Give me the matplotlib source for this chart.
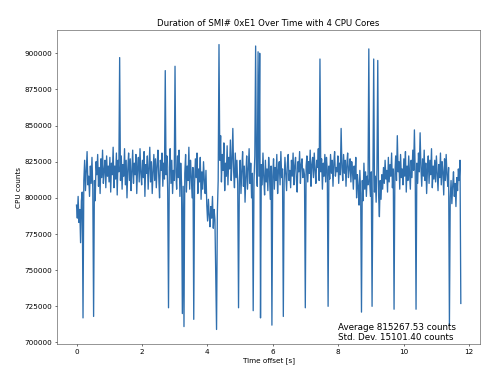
import numpy as np
import matplotlib
matplotlib.use("Agg")
import matplotlib.pyplot as plt

# Sampling period of the SMI duration measurements (seconds)
SAMPLE_PERIOD = 0.0249

# Duration of each SMI, in thousands of CPU counts
smi_kcounts = [
    # t = 0.0 .. ~1.0
    795, 786, 801, 783, 792, 769, 798, 804, 717, 812, 826, 805, 818, 832, 809, 815,
    801, 822, 810, 828, 806, 718, 812, 798, 825, 816, 830, 808, 821, 803, 827, 814,
    833, 810, 819, 826, 807, 829, 815, 822,
    # t = 1.0 .. 2.0
    811, 828, 804, 824, 816, 835, 807, 822, 813, 831, 802, 826, 818, 897, 812, 829,
    806, 823, 815, 834, 809, 826, 800, 820, 831, 812, 827, 805, 818, 833, 810, 824,
    816, 830, 803, 821, 828, 811, 834, 817,
    # t = 2.0 .. 3.0
    809, 826, 814, 832, 801, 823, 817, 829, 806, 820, 835, 811, 825, 803, 818, 830,
    812, 827, 807, 822, 833, 815, 800, 826, 819, 831, 808, 824, 813, 888, 816, 829,
    805, 724, 821, 834, 810, 826, 803, 819,
    # t = 3.0 .. 4.0
    812, 891, 818, 806, 829, 814, 833, 801, 824, 810, 720, 808, 711, 817, 830, 804,
    822, 812, 835, 806, 826, 815, 800, 821, 716, 809, 827, 814, 831, 803, 820, 811,
    828, 799, 818, 806, 825, 812, 803, 819,
    # t = 4.0 .. 5.0
    795, 784, 799, 788, 780, 794, 786, 801, 779, 792, 785, 745, 709, 790, 812, 906,
    826, 843, 811, 830, 819, 838, 805, 824, 815, 836, 809, 828, 820, 840, 812, 826,
    848, 818, 807, 831, 814, 826, 809, 724,
    # t = 5.0 .. 6.0
    812, 826, 803, 819, 832, 808, 822, 797, 815, 829, 806, 821, 834, 810, 824, 800,
    817, 722, 812, 829, 905, 818, 808, 901, 815, 900, 717, 823, 809, 831, 814, 802,
    826, 811, 820, 805, 828, 816, 799, 822,
    # t = 6.0 .. 7.0
    712, 815, 827, 806, 821, 812, 830, 803, 819, 825, 809, 832, 814, 820, 718, 811,
    828, 816, 805, 824, 830, 812, 819, 807, 826, 815, 831, 809, 822, 828, 813, 804,
    825, 818, 832, 810, 823, 827, 814, 820,
    # t = 7.0 .. 8.0
    816, 724, 822, 829, 811, 825, 817, 833, 808, 823, 828, 814, 831, 819, 810, 826,
    821, 834, 812, 896, 818, 827, 806, 824, 815, 830, 811, 828, 819, 725, 822, 813,
    830, 817, 826, 808, 824, 832, 815, 821,
    # t = 8.0 .. 9.0
    818, 829, 810, 824, 816, 848, 821, 812, 830, 817, 826, 808, 823, 831, 814, 820,
    827, 811, 825, 818, 806, 822, 813, 828, 800, 816, 808, 795, 819, 803, 721, 812,
    798, 824, 806, 818, 801, 815, 809, 903,
    # t = 9.0 .. 10.0
    812, 801, 818, 725, 808, 896, 804, 815, 797, 820, 895, 802, 787, 812, 799, 816,
    806, 821, 810, 826, 813, 819, 804, 828, 811, 823, 815, 831, 807, 820, 723, 816,
    829, 812, 843, 818, 825, 806, 830, 814,
    # t = 10.0 .. 11.0
    820, 809, 827, 815, 832, 804, 822, 812, 829, 817, 806, 826, 814, 833, 819, 847,
    816, 723, 824, 810, 831, 818, 845, 821, 808, 827, 815, 833, 812, 824, 803, 819,
    829, 810, 826, 816, 834, 807, 822, 813,
    # t = 11.0 .. end
    826, 811, 829, 817, 805, 823, 814, 831, 809, 825, 818, 802, 827, 812, 830, 816,
    808, 821, 712, 800, 812, 796, 808, 818, 801, 810, 794, 814, 805, 820, 812, 826,
    727,
]

avg_counts = 815267.53
std_counts = 15101.40

title = "Duration of SMI# 0xE1 Over Time with 4 CPU Cores"
xlabel = "Time offset [s]"
ylabel = "CPU counts"

counts = np.array(smi_kcounts, dtype=float) * 1000.0
time_s = np.arange(len(counts)) * SAMPLE_PERIOD

fig = plt.figure(figsize=(9.98, 7.56), dpi=50)
ax = fig.add_axes([0.1148, 0.0907, 0.962 - 0.1148, 0.9198 - 0.0907])
ax.plot(time_s, counts, color="#2f6fae", linewidth=1.9)
ax.set_title(title, fontsize=12.5)
ax.set_xlabel(xlabel, fontsize=10.4)
ax.set_ylabel(ylabel, fontsize=10.4)
ax.tick_params(labelsize=10.4)
for s in ax.spines.values():
    s.set_edgecolor("#444444")
ax.text(8, 700000, f"Average {avg_counts:.2f} counts\nStd. Dev. {std_counts:.2f} counts",
        fontsize=12.6, va="bottom", ha="left")

fig.savefig("out.png", dpi=50)
